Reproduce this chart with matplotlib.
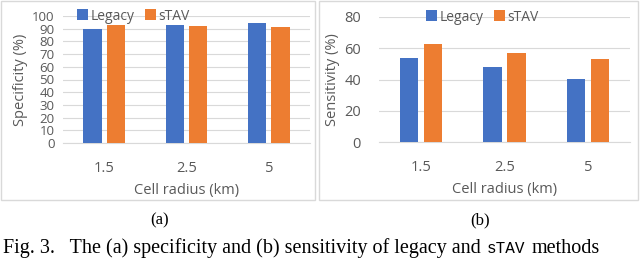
import numpy as np
import matplotlib.pyplot as plt
from matplotlib.patches import Rectangle

radius = ['1.5', '2.5', '5']
spec_legacy = [90, 93, 94.5]
spec_stav = [93, 92, 91]
sens_legacy = [54, 48, 40.5]
sens_stav = [63, 57, 53]

BLUE = '#4472C4'
ORANGE = '#ED7D31'
GREY = '#595959'
GRID = '#D9D9D9'
FONT = 'Open Sans'

fig = plt.figure(figsize=(6.4, 2.59), dpi=100)
W, H = 640.0, 259.0


def panel(rect, legacy, stav, ylabel, ymax, step, leg_x, ypad, tsize):
    ax = fig.add_axes(rect)
    x = np.arange(len(radius))
    w = 0.22
    ax.bar(x - 0.142, legacy, w, color=BLUE, label='Legacy', zorder=3)
    ax.bar(x + 0.142, stav, w, color=ORANGE, label='sTAV', zorder=3)
    ax.set_xlim(-0.5, 2.5)
    ax.set_ylim(0, ymax)
    ax.set_yticks(np.arange(0, ymax + 1, step))
    ax.set_xticks(x)
    ax.set_xticklabels(radius)
    ax.grid(axis='y', color=GRID, linewidth=0.8, zorder=0)
    for s in ['top', 'right', 'left']:
        ax.spines[s].set_visible(False)
    ax.spines['bottom'].set_color(GRID)
    ax.tick_params(length=0, colors=GREY, labelsize=10.5)
    ax.tick_params(axis='y', pad=ypad, labelsize=tsize)
    ax.tick_params(axis='x', pad=13)
    for lab in ax.get_xticklabels() + ax.get_yticklabels():
        lab.set_family(FONT)
    ax.set_ylabel(ylabel, color=GREY, fontsize=10.5, family=FONT, labelpad=3)
    ax.set_xlabel('Cell radius (km)', color=GREY, fontsize=10.5, family=FONT, labelpad=5)
    leg = ax.legend(ncol=2, loc='center left', bbox_to_anchor=(leg_x, 1.0),
                    frameon=False, handlelength=0.8, handleheight=0.8,
                    handletextpad=0.2, columnspacing=0.7, borderpad=0,
                    borderaxespad=0, prop={'family': FONT, 'size': 10})
    for t in leg.get_texts():
        t.set_color(GREY)
    return ax


# panel borders
fig.patches.append(Rectangle((1 / W, 1 - 200 / H), 314 / W, 199 / H, transform=fig.transFigure,
                             fill=False, edgecolor=GRID, linewidth=1))
fig.patches.append(Rectangle((319 / W, 1 - 200 / H), 319 / W, 199 / H, transform=fig.transFigure,
                             fill=False, edgecolor=GRID, linewidth=1))

panel([63 / W, 1 - 143 / H, 247 / W, 127 / H], spec_legacy, spec_stav,
      'Specificity (%)', 100, 10, 14 / 247, 6, 9.5)
panel([379 / W, 1 - 142 / H, 251 / W, 125 / H], sens_legacy, sens_stav,
      'Sensitivity (%)', 80, 20, 47 / 251, 13, 10.5)

fig.text(160 / W, 1 - 220 / H, '(a)', ha='center', va='center',
         family='Liberation Serif', fontsize=12)
fig.text(480 / W, 1 - 220 / H, '(b)', ha='center', va='center',
         family='Liberation Serif', fontsize=12)

cap_y = 1 - 253 / H
t1 = fig.text(3 / W, cap_y, 'Fig. 3.   The (a) specificity and (b) sensitivity of legacy and ',
              ha='left', va='baseline', family='Liberation Serif', fontsize=14.5)
fig.canvas.draw()
bb = t1.get_window_extent()
t2 = fig.text(bb.x1 / W + 1 / W, cap_y, 'sTAV', ha='left', va='baseline',
              family='Liberation Mono', fontsize=11.5)
bb2 = t2.get_window_extent()
fig.text(bb2.x1 / W + 6 / W, cap_y, 'methods', ha='left', va='baseline',
         family='Liberation Serif', fontsize=14.5)

fig.savefig('out.png', dpi=100)
